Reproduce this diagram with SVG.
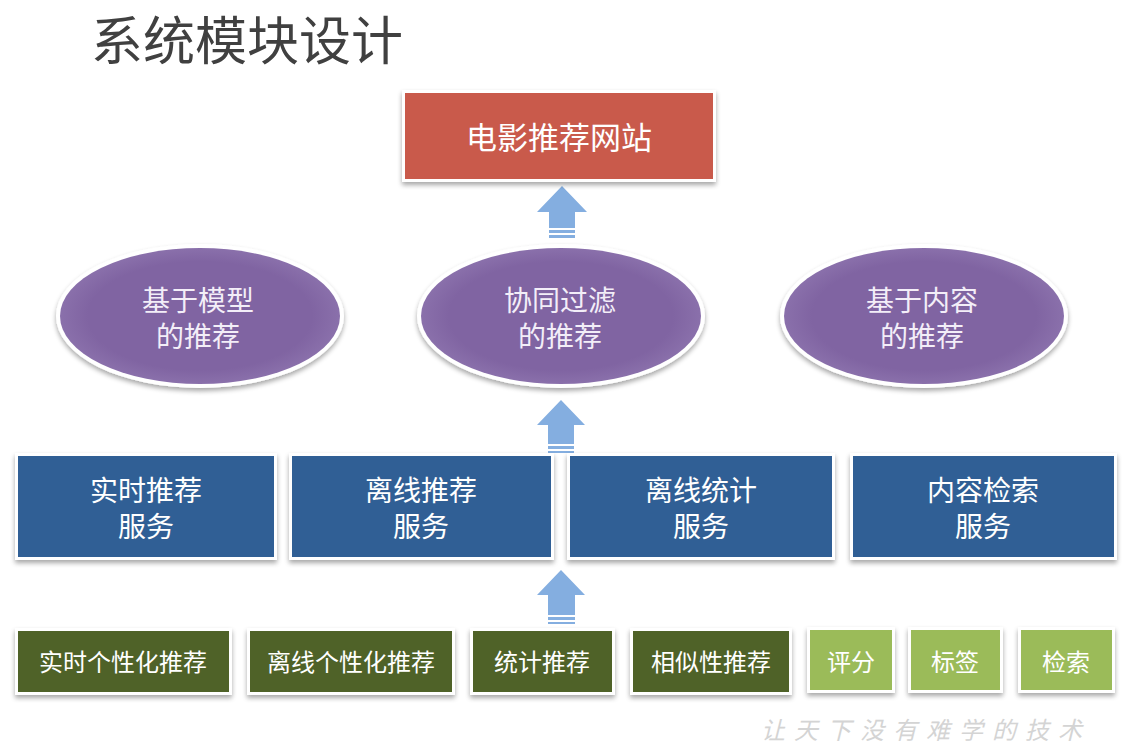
<svg xmlns="http://www.w3.org/2000/svg" width="1140" height="746" viewBox="0 0 1140 746">
<defs>
<filter id="sh" x="-10%" y="-10%" width="120%" height="130%">
<feGaussianBlur in="SourceAlpha" stdDeviation="2.5"/>
<feOffset dx="0" dy="3" result="b"/>
<feComponentTransfer><feFuncA type="linear" slope="0.35"/></feComponentTransfer>
<feMerge><feMergeNode/><feMergeNode in="SourceGraphic"/></feMerge>
</filter>
<radialGradient id="pg" cx="50%" cy="50%" r="50%">
<stop offset="0.8" stop-color="#8064a2"/>
<stop offset="1" stop-color="#8a70ab"/>
</radialGradient>
</defs>
<style>
text{font-family:"Noto Sans CJK SC","Noto Sans",sans-serif;text-anchor:middle;dominant-baseline:central}
text.ml{font-family:"Liberation Sans","Noto Sans CJK SC",sans-serif}
.frame{fill:#ffffff;filter:url(#sh)}
.red{fill:#c95a4b}
.blue{fill:#305f95}
.dk{fill:#4f6228}
.lt{fill:#9bbb59}
.t{fill:#ffffff}
.tp{fill:#f3eef8}
.arr{fill:#84aee0}
</style>
<rect width="1140" height="746" fill="#ffffff"/>
<text x="247" y="37" font-size="52" fill="#404040">系统模块设计</text>

<g id="connectors">
<g id="arrow-top">
<polygon class="arr" points="562,186 587,212 575,212 575,228 549,228 549,212 537,212"/>
<rect class="arr" x="549" y="230" width="26" height="3"/>
<rect class="arr" x="549" y="235" width="26" height="3"/>
</g>
<g id="arrow-mid">
<polygon class="arr" points="561,400 585,425 574,425 574,444 548,444 548,425 537,425"/>
<rect class="arr" x="548" y="446" width="26" height="3"/>
<rect class="arr" x="548" y="451" width="26" height="2"/>
</g>
<g id="arrow-bot">
<polygon class="arr" points="561,570 585,595 575,595 575,615 548,615 548,595 537,595"/>
<rect class="arr" x="548" y="617" width="27" height="3"/>
<rect class="arr" x="548" y="622" width="27" height="2"/>
</g>
</g>

<g id="site">
<rect class="frame" x="402" y="90" width="314" height="92"/>
<rect class="red" x="405" y="93" width="308" height="86"/>
<text class="t" x="559" y="135" font-size="31">电影推荐网站</text>
</g>

<g id="model">
<ellipse class="frame" cx="200" cy="316" rx="144" ry="72"/>
<ellipse fill="url(#pg)" cx="200" cy="316" rx="140" ry="68"/>
<text class="tp ml" font-size="28"><tspan x="198" y="301">基于模型</tspan><tspan x="198" y="337">的推荐</tspan></text>
</g>
<g id="cf">
<ellipse class="frame" cx="561" cy="316" rx="144" ry="72"/>
<ellipse fill="url(#pg)" cx="561" cy="316" rx="140" ry="68"/>
<text class="tp ml" font-size="28"><tspan x="560" y="301">协同过滤</tspan><tspan x="560" y="337">的推荐</tspan></text>
</g>
<g id="content">
<ellipse class="frame" cx="924" cy="316" rx="144" ry="72"/>
<ellipse fill="url(#pg)" cx="924" cy="316" rx="140" ry="68"/>
<text class="tp ml" font-size="28"><tspan x="922" y="301">基于内容</tspan><tspan x="922" y="337">的推荐</tspan></text>
</g>

<g id="svc-realtime">
<rect class="frame" x="15" y="453" width="262" height="107"/>
<rect class="blue" x="18" y="456" width="256" height="101"/>
<text class="t ml" font-size="28"><tspan x="146" y="491">实时推荐</tspan><tspan x="146" y="527">服务</tspan></text>
</g>
<g id="svc-offline">
<rect class="frame" x="289" y="453" width="265" height="107"/>
<rect class="blue" x="292" y="456" width="259" height="101"/>
<text class="t ml" font-size="28"><tspan x="421" y="491">离线推荐</tspan><tspan x="421" y="527">服务</tspan></text>
</g>
<g id="svc-stat">
<rect class="frame" x="567" y="453" width="268" height="107"/>
<rect class="blue" x="570" y="456" width="262" height="101"/>
<text class="t ml" font-size="28"><tspan x="701" y="491">离线统计</tspan><tspan x="701" y="527">服务</tspan></text>
</g>
<g id="svc-search">
<rect class="frame" x="850" y="453" width="267" height="107"/>
<rect class="blue" x="853" y="456" width="261" height="101"/>
<text class="t ml" font-size="28"><tspan x="983" y="491">内容检索</tspan><tspan x="983" y="527">服务</tspan></text>
</g>

<g id="b-rt">
<rect class="frame" x="15" y="628" width="217" height="67"/>
<rect class="dk" x="18" y="631" width="211" height="61"/>
<text class="t" x="123" y="660" font-size="24">实时个性化推荐</text>
</g>
<g id="b-off">
<rect class="frame" x="247" y="628" width="208" height="67"/>
<rect class="dk" x="250" y="631" width="202" height="61"/>
<text class="t" x="351" y="660" font-size="24">离线个性化推荐</text>
</g>
<g id="b-stat">
<rect class="frame" x="470" y="628" width="145" height="67"/>
<rect class="dk" x="473" y="631" width="139" height="61"/>
<text class="t" x="542" y="660" font-size="24">统计推荐</text>
</g>
<g id="b-sim">
<rect class="frame" x="630" y="628" width="162" height="67"/>
<rect class="dk" x="633" y="631" width="156" height="61"/>
<text class="t" x="711" y="660" font-size="24">相似性推荐</text>
</g>
<g id="b-score">
<rect class="frame" x="807" y="627" width="88" height="66"/>
<rect class="lt" x="810" y="630" width="82" height="60"/>
<text class="t" x="851" y="660" font-size="24">评分</text>
</g>
<g id="b-tag">
<rect class="frame" x="908" y="627" width="95" height="66"/>
<rect class="lt" x="911" y="630" width="89" height="60"/>
<text class="t" x="955" y="660" font-size="24">标签</text>
</g>
<g id="b-find">
<rect class="frame" x="1018" y="627" width="97" height="66"/>
<rect class="lt" x="1021" y="630" width="91" height="60"/>
<text class="t" x="1066" y="660" font-size="24">检索</text>
</g>

<text x="926" y="728" font-size="24" fill="#d4d4d4" font-style="italic" letter-spacing="9">让天下没有难学的技术</text>
</svg>
